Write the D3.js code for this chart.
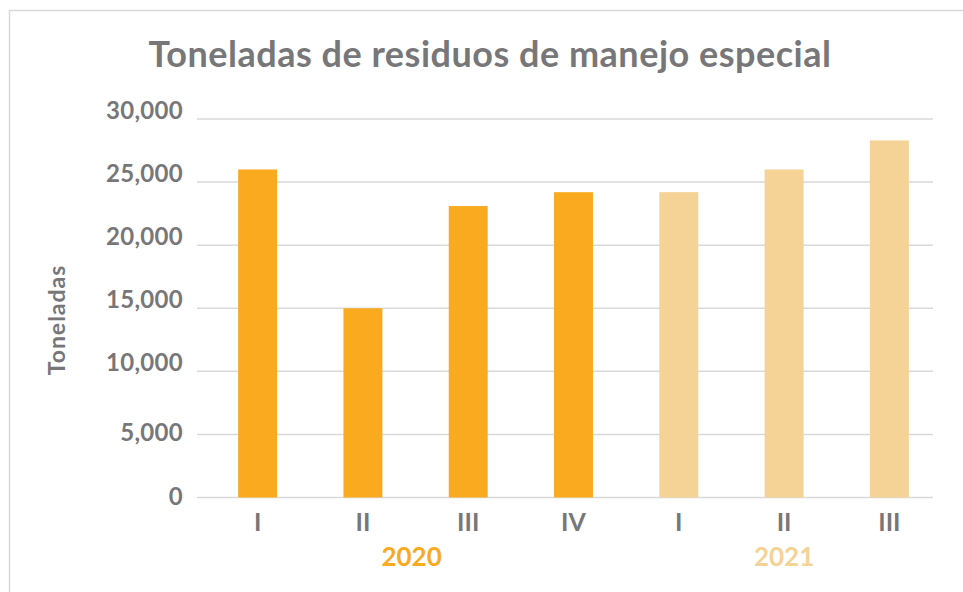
<!DOCTYPE html>
<html>
<head>
<meta charset="utf-8">
<script src="https://cdn.jsdelivr.net/npm/d3@7"></script>
<style>
  html, body { margin: 0; padding: 0; background: #fff; }
  svg { display: block; }
  text { font-family: Lato, "Open Sans", sans-serif; font-weight: 700; }
</style>
</head>
<body>
<svg id="chart" width="963" height="592"></svg>
<script>
const title = "Toneladas de residuos de manejo especial";
const yTitle = "Toneladas";
const quarters = ["I", "II", "III", "IV", "I", "II", "III"];
const years = ["2020", "2020", "2020", "2020", "2021", "2021", "2021"];
const values = [26000, 15000, 23100, 24200, 24200, 26000, 28300];
const yearLabels = ["2020", "2021"];
const yTicks = [0, 5000, 10000, 15000, 20000, 25000, 30000];

const colors = { "2020": "#F9AA1F", "2021": "#F5D296" };
const textGray = "#77777a";

const svg = d3.select("#chart");
const W = 963, H = 592;

// outer frame
svg.append("rect")
  .attr("x", 9.5).attr("y", 10.5)
  .attr("width", W + 20).attr("height", H + 20)
  .attr("fill", "none").attr("stroke", "#d9d9d9").attr("stroke-width", 1.5);

const gridLeft = 197, gridRight = 933;
const ids = quarters.map((q, i) => i);

const x = d3.scaleBand().domain(ids).range([205, 942]).paddingInner(0.63).paddingOuter(0.315);
const y = d3.scaleLinear().domain([0, 30000]).range([497.5, 119]);

// title
svg.append("text")
  .attr("x", 490).attr("y", 67)
  .attr("text-anchor", "middle")
  .attr("font-size", 36)
  .attr("letter-spacing", 0.5)
  .attr("fill", textGray)
  .text(title);

// gridlines
svg.append("g").selectAll("line").data(yTicks).join("line")
  .attr("x1", gridLeft).attr("x2", gridRight)
  .attr("y1", d => y(d)).attr("y2", d => y(d))
  .attr("stroke", "#d9d9d9").attr("stroke-width", 1.5);

// y tick labels
const fmt = d3.format(",");
svg.append("g").selectAll("text").data(yTicks).join("text")
  .attr("x", 183).attr("y", d => y(d) + (d < 10000 ? 7 : 0))
  .attr("text-anchor", "end")
  .attr("font-size", 24)
  .attr("letter-spacing", 0.3)
  .attr("fill", textGray)
  .text(d => fmt(d));

// y axis title
svg.append("text")
  .attr("transform", "translate(65,320) rotate(-90)")
  .attr("text-anchor", "middle")
  .attr("font-size", 23)
  .attr("letter-spacing", 1)
  .attr("fill", textGray)
  .text(yTitle);

// bars
svg.append("g").selectAll("rect").data(values).join("rect")
  .attr("x", (d, i) => x(i))
  .attr("width", x.bandwidth())
  .attr("y", d => y(d))
  .attr("height", d => y(0) - y(d))
  .attr("fill", (d, i) => colors[years[i]]);

// x tick labels
svg.append("g").selectAll("text").data(quarters).join("text")
  .attr("x", (d, i) => x(i) + x.bandwidth() / 2)
  .attr("y", 531)
  .attr("text-anchor", "middle")
  .attr("font-size", 25)
  .attr("fill", textGray)
  .text(d => d);

// year labels
yearLabels.forEach(yr => {
  const idx = ids.filter(i => years[i] === yr);
  const cx = d3.mean(idx, i => x(i) + x.bandwidth() / 2);
  svg.append("text")
    .attr("x", cx - (idx.length % 2 === 0 ? 4 : 0))
    .attr("y", 566)
    .attr("text-anchor", "middle")
    .attr("font-size", 26)
    .attr("fill", colors[yr])
    .text(yr);
});
</script>
</body>
</html>
